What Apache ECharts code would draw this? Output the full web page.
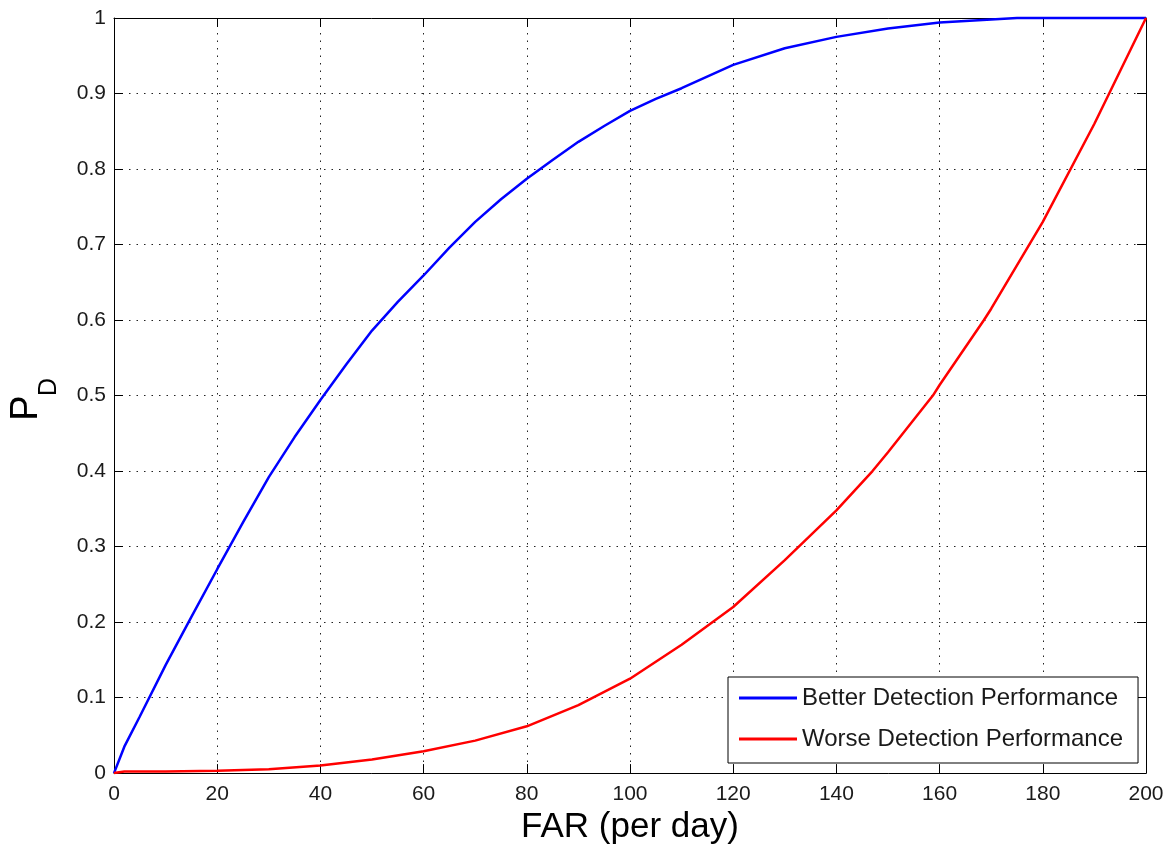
<!DOCTYPE html>
<html>
<head>
<meta charset="utf-8">
<script src="https://cdn.jsdelivr.net/npm/echarts@6/dist/echarts.min.js"></script>
<style>html,body{margin:0;padding:0;background:#fff;}#c{width:1171px;height:850px;}</style>
</head>
<body>
<div id="c"></div>
<script>
var seriesNames = ['Better Detection Performance', 'Worse Detection Performance'];
var betterX = [0, 2, 5, 10, 15, 20, 25, 30, 35, 40, 45, 50, 55, 60, 65, 70, 75, 80, 85, 90, 95, 100, 105, 110, 120, 130, 140, 150, 160, 170, 175, 180, 190, 200];
var betterY = [0, 0.035, 0.075, 0.143, 0.207, 0.27, 0.332, 0.392, 0.445, 0.494, 0.541, 0.586, 0.624, 0.659, 0.696, 0.73, 0.76, 0.787, 0.812, 0.836, 0.857, 0.877, 0.893, 0.907, 0.938, 0.96, 0.975, 0.986, 0.994, 0.998, 1, 1, 1, 1];
var worseX = [0, 2, 10, 20, 30, 40, 50, 60, 70, 80, 90, 100, 110, 120, 130, 140, 147, 150, 158.7, 160, 168.6, 170, 180, 190, 200];
var worseY = [0, 0.002, 0.002, 0.003, 0.005, 0.01, 0.018, 0.029, 0.043, 0.062, 0.09, 0.125, 0.17, 0.22, 0.282, 0.348, 0.4, 0.425, 0.5, 0.514, 0.6, 0.615, 0.73, 0.86, 1];
var xTicks = {min: 0, max: 200, interval: 20};
var yTicks = {min: 0, max: 1, interval: 0.1};

function pairs(xs, ys) { return xs.map(function (x, i) { return [x, ys[i]]; }); }

var font = '"Liberation Sans", Arial, Helvetica, sans-serif';
var chart = echarts.init(document.getElementById('c'), null, {renderer: 'canvas'});
var gridLine = {show: true, lineStyle: {color: '#222', type: [1.5, 6], width: 1}};
var boxLine = {show: true, onZero: false, lineStyle: {color: '#000', width: 1}};
var tick = {show: true, inside: true, length: 9, lineStyle: {color: '#000', width: 1}};

chart.setOption({
  animation: false,
  backgroundColor: '#fff',
  grid: {left: 114, right: 25, top: 18, bottom: 73, containLabel: false},
  xAxis: [{
    type: 'value', min: xTicks.min, max: xTicks.max, interval: xTicks.interval,
    position: 'bottom',
    name: 'FAR (per day)', nameLocation: 'middle', nameGap: 31,
    nameTextStyle: {fontFamily: font, fontSize: 35, color: '#000'},
    axisLine: boxLine, axisTick: tick, splitLine: gridLine,
    axisLabel: {fontFamily: font, fontSize: 21, color: '#1a1a1a', margin: 11}
  }, {
    type: 'value', min: xTicks.min, max: xTicks.max, interval: xTicks.interval,
    position: 'top',
    axisLine: boxLine, axisTick: tick, splitLine: {show: false},
    axisLabel: {show: false}
  }],
  yAxis: [{
    type: 'value', min: yTicks.min, max: yTicks.max, interval: yTicks.interval,
    position: 'left',
    axisLine: boxLine, axisTick: tick, splitLine: gridLine,
    axisLabel: {fontFamily: font, fontSize: 21, color: '#1a1a1a', margin: 8}
  }, {
    type: 'value', min: yTicks.min, max: yTicks.max, interval: yTicks.interval,
    position: 'right',
    axisLine: boxLine, axisTick: tick, splitLine: {show: false},
    axisLabel: {show: false}
  }],
  legend: {
    orient: 'vertical', left: 728, top: 677,
    padding: [9, 15, 12, 11], itemGap: 17,
    itemWidth: 58, itemHeight: 3, icon: 'rect',
    backgroundColor: '#fff', borderColor: '#000', borderWidth: 1, borderRadius: 0,
    textStyle: {fontFamily: font, fontSize: 24, color: '#1a1a1a', padding: [0, 0, 0, 0]},
    data: seriesNames
  },
  graphic: [
    {type: 'text', x: 27, y: 408, rotation: Math.PI / 2,
     style: {text: 'P', fontFamily: font, fontSize: 38, fill: '#000', textAlign: 'center', textVerticalAlign: 'middle'}},
    {type: 'text', x: 49, y: 387, rotation: Math.PI / 2,
     style: {text: 'D', fontFamily: font, fontSize: 25, fill: '#000', textAlign: 'center', textVerticalAlign: 'middle'}}
  ],
  series: [{
    name: seriesNames[0], type: 'line', showSymbol: false, clip: false,
    data: pairs(betterX, betterY),
    lineStyle: {color: '#0000ff', width: 2.5}, itemStyle: {color: '#0000ff'}
  }, {
    name: seriesNames[1], type: 'line', showSymbol: false, clip: false,
    data: pairs(worseX, worseY),
    lineStyle: {color: '#ff0000', width: 2.5}, itemStyle: {color: '#ff0000'}
  }]
});
</script>
</body>
</html>
